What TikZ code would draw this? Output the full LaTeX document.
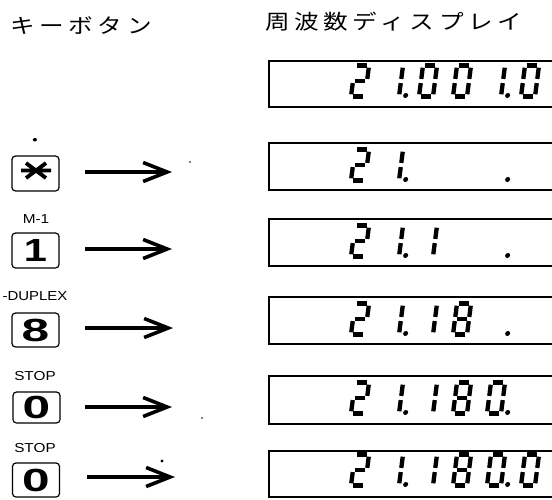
\documentclass[tikz,border=0pt]{standalone}
\usepackage{fontspec}
\setmainfont{Liberation Sans}
\newfontfamily\jpfont[LetterSpace=19]{Noto Sans CJK JP}
\usetikzlibrary{arrows.meta}

\tikzset{
  keybox/.style={draw, line width=1.2pt, rounded corners=3.5pt, minimum width=47pt,
    minimum height=34pt, inner sep=0pt, font=\fontsize{32}{32}\selectfont\bfseries},
  lcdbox/.style={draw, line width=1.7pt, anchor=north west, minimum width=330pt, inner sep=0pt},
  keylabel/.style={font=\fontsize{13}{14}\selectfont, inner sep=0pt},
  titletext/.style={font=\fontsize{20.5}{21}\selectfont\jpfont, inner sep=0pt, anchor=west},
  arr/.style={line width=3.1pt, -{Straight Barb[length=24pt,width=19pt,line width=3.6pt]}},
  seg/.style={line width=4.3pt},
  speck/.style={fill=black},
}

\newcommand\sA{\draw[seg] (2.4,31) -- (11.6,31);}
\newcommand\sB{\draw[seg] (14,28.8) -- (14,17.6);}
\newcommand\sC{\draw[seg] (14,13.4) -- (14,2.2);}
\newcommand\sD{\draw[seg] (2.4,0) -- (11.6,0);}
\newcommand\sE{\draw[seg] (0,2.2) -- (0,13.4);}
\newcommand\sF{\draw[seg] (0,17.6) -- (0,28.8);}
\newcommand\sG{\draw[seg] (2.4,15.5) -- (11.6,15.5);}
\newcommand\dsegs[1]{\ifcase#1\relax \sA\sB\sC\sD\sE\sF\or \sB\sC\or \sA\sB\sG\sE\sD\or
  \sA\sB\sG\sC\sD\or \sF\sG\sB\sC\or \sA\sF\sG\sC\sD\or \sA\sF\sG\sE\sC\sD\or \sA\sB\sC\or
  \sA\sB\sC\sD\sE\sF\sG\or \sA\sB\sC\sD\sF\sG\else\fi}
\newcommand\lcdcell[4]{\begin{scope}[shift={(#1,#2)}, yscale=-1, xslant=-0.13]
  \dsegs{#3}\ifnum#4=1 \fill (20.5,1) circle (2.5);\fi\end{scope}}
\newcommand\lcdrow[2]{\foreach \dg/\dp [count=\ci from 0] in {#2}{%
  \pgfmathsetmacro\cx{351+34*\ci}\lcdcell{\cx}{#1}{\dg}{\dp}}}

\begin{document}
\begin{tikzpicture}[x=1pt, y=-1pt]
\useasboundingbox (0,0) rectangle (552,499);
\fill[white] (0,0) rectangle (552,499);
\clip (0,0) rectangle (552,499);

% titles
\node[titletext] (t1) at (10,26) {\scalebox{1.2}[1]{キーボタン}};
\node[titletext] (t2) at (265,22) {\scalebox{1.2}[1]{周波数ディスプレイ}};

% display boxes
\node[lcdbox, minimum height=46pt] (d1) at (268,60) {};
\node[lcdbox, minimum height=47pt] (d2) at (268,142) {};
\node[lcdbox, minimum height=47pt] (d3) at (268,218) {};
\node[lcdbox, minimum height=47pt] (d4) at (268,296) {};
\node[lcdbox, minimum height=48pt] (d5) at (268,375) {};
\node[lcdbox, minimum height=46pt] (d6) at (268,450) {};

% display digits
\lcdrow{96.5}{2/0,1/1,0/0,0/0,1/1,0/0}
\lcdrow{180.5}{2/0,1/1,-1/0,-1/0,-1/1,-1/0}
\lcdrow{256.5}{2/0,1/1,1/0,-1/0,-1/1,-1/0}
\lcdrow{334.5}{2/0,1/1,1/0,8/0,-1/1,-1/0}
\lcdrow{413.5}{2/0,1/1,1/0,8/0,0/1,-1/0}
\lcdrow{485.5}{2/0,1/1,1/0,8/0,0/1,0/0}

% key labels
\node[keylabel] (l1) at (35,141) {\scalebox{1.18}[1]{•}};
\node[keylabel] (l2) at (36,219) {\scalebox{1.18}[1]{M-1}};
\node[keylabel] (l3) at (35,296) {\scalebox{1.15}[1]{-DUPLEX}};
\node[keylabel] (l4) at (35,376) {\scalebox{1.18}[1]{STOP}};
\node[keylabel] (l5) at (35,448) {\scalebox{1.18}[1]{STOP}};

% keys
\node[keybox, minimum height=35pt] (k1) at (35.5,173.5) {};
\draw[line width=3.8pt] (21,170.5) -- (51,170.5) (26,163) -- (46,178) (26,178) -- (46,163);
\node[keybox, minimum height=35pt] (k2) at (35.5,250.5) {\scalebox{1.3}[1]{1}};
\node[keybox] (k3) at (35.5,330) {\scalebox{1.55}[1]{8}};
\node[keybox, minimum height=31pt] (k4) at (36.5,407.5) {\scalebox{1.55}[1]{0}};
\node[keybox] (k5) at (36,480) {\scalebox{1.55}[1]{0}};

% arrows
\coordinate (s1) at (85,172);  \coordinate (e1) at (172,172);
\coordinate (s2) at (85,249);  \coordinate (e2) at (172,249);
\coordinate (s3) at (85,328);  \coordinate (e3) at (173,328);
\coordinate (s4) at (85,407);  \coordinate (e4) at (172,407);
\coordinate (s5) at (87,477);  \coordinate (e5) at (175,477);
\draw[arr] (s1) -- (e1);
\draw[arr] (s2) -- (e2);
\draw[arr] (s3) -- (e3);
\draw[arr] (s4) -- (e4);
\draw[arr] (s5) -- (e5);

% specks
\fill[speck] (190,162) circle (0.8);
\fill[speck] (202,418) circle (0.8);
\fill[speck] (162,461) circle (1.6);
\end{tikzpicture}
\end{document}
